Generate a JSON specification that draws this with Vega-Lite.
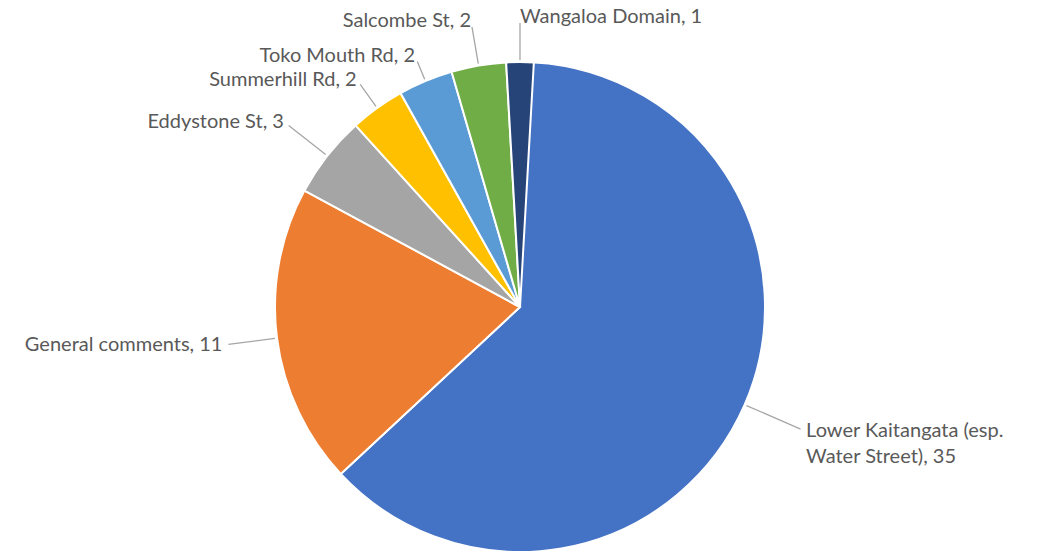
{
  "$schema": "https://vega.github.io/schema/vega-lite/v6.json",
  "width": 1040,
  "height": 490,
  "autosize": "none",
  "padding": {"left": 0, "top": 62, "right": 9, "bottom": 0},
  "background": "white",
  "config": {"view": {"stroke": null}},
  "data": {
    "values": [
      {"category": "Lower Kaitangata (esp.\nWater Street)", "value": 35},
      {"category": "General comments", "value": 11},
      {"category": "Eddystone St", "value": 3},
      {"category": "Summerhill Rd", "value": 2},
      {"category": "Toko Mouth Rd", "value": 2},
      {"category": "Salcombe St", "value": 2},
      {"category": "Wangaloa Domain", "value": 1}
    ]
  },
  "transform": [
    {"stack": "value", "groupby": [], "as": ["start", "end"]}
  ],
  "layer": [
    {
      "mark": {"type": "arc", "outerRadius": 245, "stroke": "white", "strokeWidth": 2},
      "encoding": {
        "theta": {"field": "start", "type": "quantitative"},
        "theta2": {"field": "end"},
        "color": {
          "field": "category",
          "type": "nominal",
          "scale": {
            "domain": ["Lower Kaitangata (esp.\nWater Street)", "General comments", "Eddystone St", "Summerhill Rd", "Toko Mouth Rd", "Salcombe St", "Wangaloa Domain"],
            "range": ["#4472C4", "#ED7D31", "#A5A5A5", "#FFC000", "#5B9BD5", "#70AD47", "#264478"]
          },
          "legend": null
        }
      }
    },
    {
      "transform": [
        {"fold": ["start", "end"], "as": ["edge", "pos"]},
        {"aggregate": [{"op": "mean", "field": "pos", "as": "mid"}], "groupby": ["category", "value"]}
      ],
      "mark": {
        "type": "arc",
        "fill": null,
        "stroke": "#A6A6A6",
        "strokeWidth": 1.3,
        "radius": {"expr": "(datum.mid < 28 ? 312 : datum.mid < 49 ? 300 : datum.mid < 51 ? 280 : datum.mid < 53 ? 272 : 290) - 6"},
        "radius2": 247
      },
      "encoding": {
        "theta": {"field": "mid", "type": "quantitative"},
        "theta2": {"field": "mid"}
      }
    },
    {
      "transform": [
        {"fold": ["start", "end"], "as": ["edge", "pos"]},
        {"aggregate": [{"op": "mean", "field": "pos", "as": "mid"}], "groupby": ["category", "value"]}
      ],
      "mark": {
        "type": "text",
        "font": "Lato",
        "fontSize": 20,
        "fill": "#595959",
        "baseline": "middle",
        "lineBreak": "\n",
        "lineHeight": 26,
        "radius": {"expr": "datum.mid < 28 ? 312 : datum.mid < 49 ? 300 : datum.mid < 51 ? 280 : datum.mid < 53 ? 272 : 290"},
        "align": {"expr": "datum.mid < 28 || datum.mid > 55 ? 'left' : 'right'"},
        "text": {"expr": "datum.category + ', ' + datum.value"}
      },
      "encoding": {
        "theta": {"field": "mid", "type": "quantitative"}
      }
    }
  ]
}
